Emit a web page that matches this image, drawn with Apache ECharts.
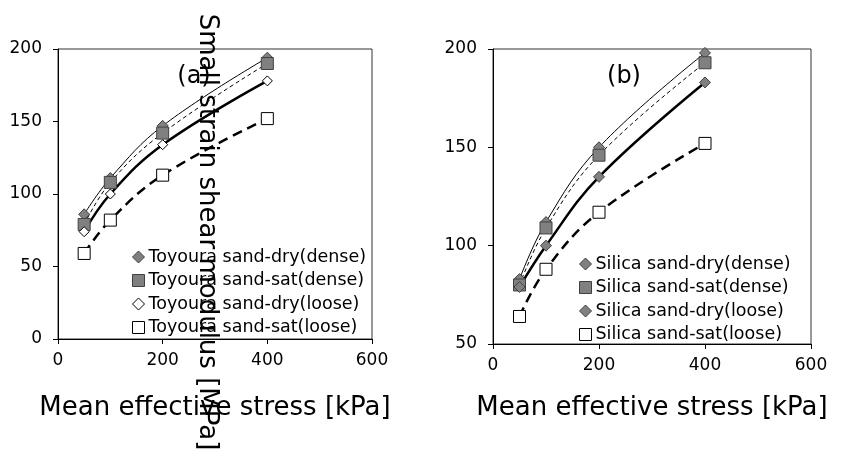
<!DOCTYPE html>
<html>
<head>
<meta charset="utf-8">
<script src="https://cdn.jsdelivr.net/npm/echarts@6/dist/echarts.min.js"></script>
<style>
  html, body { margin: 0; padding: 0; background: #fff; }
  #main { width: 841px; height: 463px; }
</style>
</head>
<body>
<div id="main"></div>
<script>
// stress levels [kPa] and moduli [MPa]
const stress = [50, 100, 200, 400];
const xTicks = [0, 200, 400, 600];

const toyouraDryDense = [86, 111, 147, 194];
const toyouraSatDense = [79, 108, 142, 190];
const toyouraDryLoose = [74, 100, 134, 178];
const toyouraSatLoose = [59, 82, 113, 152];

const silicaDryDense = [83, 112, 150, 198];
const silicaSatDense = [80, 109, 146, 193];
const silicaDryLoose = [79, 100, 135, 183];
const silicaSatLoose = [64, 88, 117, 152];

const namesA = ['Toyoura sand-dry(dense)', 'Toyoura sand-sat(dense)', 'Toyoura sand-dry(loose)', 'Toyoura sand-sat(loose)'];
const namesB = ['Silica sand-dry(dense)', 'Silica sand-sat(dense)', 'Silica sand-dry(loose)', 'Silica sand-sat(loose)'];

const FONT = 'DejaVu Sans';
const GREY = {color: '#808080', borderColor: '#404040', borderWidth: 1};
const OPEN = {color: '#ffffff', borderColor: '#000000', borderWidth: 1};

// marker + line look for the four series of each panel
function look(kind, symbol, item, width, type) {
  return {kind, symbol, item, width, type};
}

const looksA = [
  look('dryDense', 'diamond', GREY, 1, 'solid'),
  look('satDense', 'rect', GREY, 1, [4, 3]),
  look('dryLoose', 'diamond', OPEN, 2.5, 'solid'),
  look('satLoose', 'rect', OPEN, 2.5, [10, 6]),
];
const looksB = [
  look('dryDense', 'diamond', GREY, 1, 'solid'),
  look('satDense', 'rect', GREY, 1, [4, 3]),
  look('dryLoose', 'diamond', GREY, 2.5, 'solid'),
  look('satLoose', 'rect', OPEN, 2.5, [10, 6]),
];

function makeSeries(name, values, lk, idx) {
  return {
    name: name,
    type: 'line',
    xAxisIndex: idx,
    yAxisIndex: idx,
    data: stress.map((x, i) => [x, values[i]]),
    smooth: 0.4,
    symbol: lk.symbol,
    symbolSize: lk.symbol === 'rect' ? 12 : (lk.item === OPEN ? 10 : 11),
    itemStyle: lk.item,
    lineStyle: {color: '#000', width: lk.width, type: lk.type},
    emphasis: {disabled: true},
    animation: false,
    z: 3,
  };
}

function axisX(idx, gap) {
  return {
    type: 'value',
    gridIndex: idx,
    min: xTicks[0],
    max: xTicks[xTicks.length - 1],
    interval: 200,
    name: 'Mean effective stress [kPa]',
    nameLocation: 'middle',
    nameGap: gap,
    nameTextStyle: {fontSize: 26, color: '#000', fontFamily: FONT},
    axisLine: {show: true, onZero: false, lineStyle: {color: '#000', width: 1}},
    axisTick: {show: true, length: 5, lineStyle: {color: '#000'}},
    axisLabel: {fontSize: 17, color: '#000', fontFamily: FONT, margin: 13},
    splitLine: {show: false},
  };
}

function axisY(idx, min) {
  return {
    type: 'value',
    gridIndex: idx,
    min: min,
    max: 200,
    interval: 50,
    axisLine: {show: true, onZero: false, lineStyle: {color: '#000', width: 1}},
    axisTick: {show: true, length: 5, lineStyle: {color: '#000'}},
    axisLabel: {fontSize: 17, color: '#000', fontFamily: FONT, margin: 16},
    splitLine: {show: false},
  };
}

function legendItems(names, looks) {
  return names.map((n, i) => ({
    name: n,
    icon: looks[i].symbol,
    itemStyle: looks[i].item,
  }));
}

const chart = echarts.init(document.getElementById('main'));

const series = [];
namesA.forEach((n, i) => series.push(makeSeries(n, [toyouraDryDense, toyouraSatDense, toyouraDryLoose, toyouraSatLoose][i], looksA[i], 0)));
namesB.forEach((n, i) => series.push(makeSeries(n, [silicaDryDense, silicaSatDense, silicaDryLoose, silicaSatLoose][i], looksB[i], 1)));

chart.setOption({
  backgroundColor: '#fff',
  animation: false,
  grid: [
    {left: 58, top: 49, width: 314, height: 290, show: true, borderColor: '#333', borderWidth: 1},
    {left: 493, top: 49, width: 318, height: 295, show: true, borderColor: '#333', borderWidth: 1},
  ],
  xAxis: [axisX(0, 56), axisX(1, 51)],
  yAxis: [axisY(0, 0), axisY(1, 50)],
  legend: [
    {
      data: legendItems(namesA, looksA),
      orient: 'vertical',
      left: 132,
      top: 248,
      padding: 0,
      itemGap: 5.5,
      itemWidth: 12,
      itemHeight: 12,
      selectedMode: false,
      textStyle: {fontSize: 17.5, color: '#000', fontFamily: FONT, padding: [0, 0, 0, -1]},
    },
    {
      data: legendItems(namesB, looksB),
      orient: 'vertical',
      left: 579,
      top: 255,
      padding: 0,
      itemGap: 5.5,
      itemWidth: 12,
      itemHeight: 12,
      selectedMode: false,
      textStyle: {fontSize: 17.5, color: '#000', fontFamily: FONT, padding: [0, 0, 0, -1]},
    },
  ],
  graphic: [
    {
      type: 'text', x: 194, y: 77, z: 10,
      style: {text: '(a)', fontSize: 24, fontFamily: FONT, fill: '#000', textAlign: 'center', textVerticalAlign: 'middle'},
    },
    {
      type: 'text', x: 624, y: 77, z: 10,
      style: {text: '(b)', fontSize: 24, fontFamily: FONT, fill: '#000', textAlign: 'center', textVerticalAlign: 'middle'},
    },
    {
      // y title of the left panel, drawn rotated across the plot as in the figure
      type: 'text', x: 207, y: 232, rotation: -Math.PI / 2, z: 10,
      style: {text: 'Small strain shear modulus [MPa]', fontSize: 26, fontFamily: FONT, fill: '#000', textAlign: 'center', textVerticalAlign: 'middle'},
    },
  ],
  series: series,
});
</script>
</body>
</html>
